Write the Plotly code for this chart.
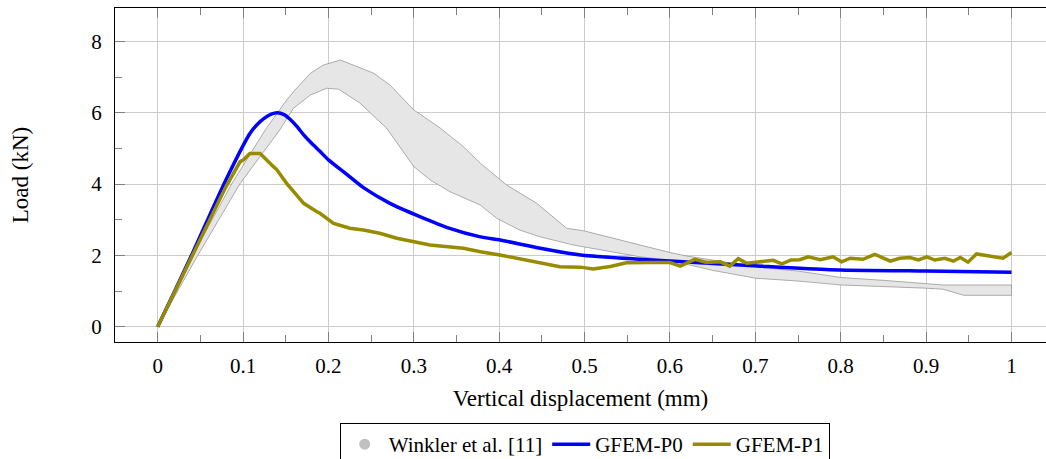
import plotly.graph_objects as go

# Winkler et al. experimental envelope (upper / lower boundary)
band_up_x = [0, 0.04, 0.087, 0.126, 0.151, 0.159, 0.179, 0.194, 0.214, 0.233, 0.253, 0.272, 0.3, 0.331,
             0.358, 0.378, 0.409, 0.444, 0.479, 0.499, 0.565, 0.6, 0.62, 0.66, 0.70, 0.75, 0.80, 0.85,
             0.90, 0.92, 1.0]
band_up_y = [0, 1.96, 4.02, 5.52, 6.36, 6.59, 7.11, 7.34, 7.48, 7.29, 7.11, 6.78, 6.08, 5.57,
             5.05, 4.58, 3.97, 3.46, 2.76, 2.69, 2.29, 2.08, 1.98, 1.82, 1.68, 1.56, 1.38, 1.30,
             1.22, 1.17, 1.17]
band_lo_x = [0, 0.046, 0.0966, 0.143, 0.159, 0.179, 0.198, 0.212, 0.237, 0.268, 0.3, 0.319, 0.342,
             0.378, 0.397, 0.424, 0.448, 0.487, 0.518, 0.565, 0.6, 0.65, 0.70, 0.75, 0.80, 0.85,
             0.90, 0.92, 0.944, 1.0]
band_lo_y = [0, 1.96, 4.02, 5.52, 6.13, 6.50, 6.69, 6.66, 6.27, 5.57, 4.49, 4.12, 3.79,
             3.41, 3.04, 2.71, 2.52, 2.29, 2.15, 1.96, 1.86, 1.58, 1.36, 1.28, 1.17, 1.12,
             1.08, 1.05, 0.88, 0.88]

# GFEM-P0
p0_x = [0, 0.02, 0.04, 0.06, 0.08, 0.1, 0.108, 0.116, 0.125, 0.133, 0.14, 0.148, 0.155, 0.163,
        0.171, 0.18, 0.19, 0.2, 0.22, 0.241, 0.272, 0.307, 0.342, 0.378, 0.401, 0.448, 0.495,
        0.565, 0.6, 0.698, 0.787, 0.9, 1.0]
p0_y = [0, 1.0, 2.02, 3.08, 4.12, 5.08, 5.42, 5.66, 5.85, 5.96, 6.0, 5.95, 5.82, 5.62,
        5.38, 5.15, 4.92, 4.68, 4.3, 3.9, 3.46, 3.09, 2.76, 2.52, 2.43, 2.20, 2.01,
        1.89, 1.84, 1.71, 1.60, 1.56, 1.53]

# GFEM-P1
p1_x = [0, 0.02, 0.04, 0.06, 0.08, 0.0966, 0.1005, 0.108, 0.112, 0.12, 0.1356, 0.1396, 0.151,
        0.167, 0.171, 0.186, 0.19, 0.206, 0.225, 0.241, 0.26, 0.28, 0.319, 0.358, 0.378, 0.401,
        0.44, 0.471, 0.495, 0.51, 0.53, 0.549, 0.577, 0.6, 0.612, 0.629, 0.643, 0.659, 0.670,
        0.680, 0.690, 0.711, 0.721, 0.731, 0.742, 0.752, 0.762, 0.776, 0.791, 0.801, 0.811,
        0.826, 0.840, 0.858, 0.869, 0.881, 0.891, 0.901, 0.910, 0.922, 0.932, 0.940, 0.949,
        0.959, 0.990, 1.0]
p1_y = [0, 0.98, 1.96, 2.95, 3.93, 4.63, 4.68, 4.86, 4.86, 4.86, 4.49, 4.40, 4.02,
        3.55, 3.46, 3.23, 3.18, 2.90, 2.76, 2.71, 2.62, 2.48, 2.29, 2.20, 2.10, 2.01,
        1.82, 1.68, 1.67, 1.62, 1.69, 1.79, 1.80, 1.80, 1.70, 1.89, 1.80, 1.82, 1.70,
        1.91, 1.78, 1.82, 1.86, 1.76, 1.87, 1.88, 1.96, 1.88, 1.96, 1.82, 1.92,
        1.89, 2.03, 1.84, 1.92, 1.94, 1.87, 1.96, 1.87, 1.92, 1.84, 1.94, 1.81,
        2.04, 1.92, 2.08]

x_ticks = [0, 0.1, 0.2, 0.3, 0.4, 0.5, 0.6, 0.7, 0.8, 0.9, 1.0]
x_tick_text = ["0", "0.1", "0.2", "0.3", "0.4", "0.5", "0.6", "0.7", "0.8", "0.9", "1"]
y_ticks = [0, 2, 4, 6, 8]

FONT = "Liberation Serif"
OLIVE = "#978c00"

fig = go.Figure()
fig.add_trace(go.Scatter(
    x=band_up_x + band_lo_x[::-1], y=band_up_y + band_lo_y[::-1],
    mode="lines", fill="toself", fillcolor="#e6e6e6",
    line=dict(color="#8c8c8c", width=0.7), showlegend=False, hoverinfo="skip"))
fig.add_trace(go.Scatter(
    x=[None], y=[None], mode="markers", name="Winkler et al. [11]",
    marker=dict(symbol="circle", size=11, color="#c0c0c0")))
fig.add_trace(go.Scatter(x=p0_x, y=p0_y, mode="lines", name="GFEM-P0",
                         line=dict(color="#0000ff", width=3.5, shape="spline", smoothing=0.6)))
fig.add_trace(go.Scatter(x=p1_x, y=p1_y, mode="lines", name="GFEM-P1",
                         line=dict(color=OLIVE, width=3.5)))

fig.update_layout(
    width=1046, height=459,
    margin=dict(l=115, r=0, t=8, b=117, autoexpand=False),
    paper_bgcolor="white", plot_bgcolor="white",
    font=dict(family=FONT, size=21, color="black"),
    legend=dict(orientation="h", xref="container", yref="container",
                x=0.559, xanchor="center", y=0.0784, yanchor="top",
                bordercolor="black", borderwidth=1, font=dict(size=21),
                itemwidth=38, tracegroupgap=0),
)
fig.update_xaxes(
    range=[-0.05, 1.0404], tickvals=x_ticks, ticktext=x_tick_text,
    showgrid=True, gridcolor="#cccccc", gridwidth=1, zeroline=False,
    showline=True, linecolor="black", linewidth=1.3, mirror="ticks",
    ticks="inside", ticklen=10, tickcolor="#808080", tickwidth=1,
    minor=dict(dtick=0.05, tick0=0, ticks="inside", ticklen=7, tickcolor="#808080", showgrid=False),
    tickfont=dict(size=21), ticklabelstandoff=5, automargin=False,
    title=dict(text="Vertical displacement (mm)", font=dict(size=23), standoff=12),
)
fig.update_yaxes(
    range=[-0.43, 8.94], tickvals=y_ticks,
    showgrid=True, gridcolor="#cccccc", gridwidth=1, zeroline=False,
    showline=True, linecolor="black", linewidth=1.3, mirror=False,
    ticks="inside", ticklen=10, tickcolor="#808080", tickwidth=1,
    minor=dict(dtick=1, tick0=0, ticks="inside", ticklen=7, tickcolor="#808080", showgrid=False),
    tickfont=dict(size=21), ticklabelstandoff=8, automargin=False,
    title=dict(text="Load (kN)", font=dict(size=23), standoff=56),
)
fig.write_html("out.html", config={"displayModeBar": False},
               post_script="document.body.style.margin='0';")
